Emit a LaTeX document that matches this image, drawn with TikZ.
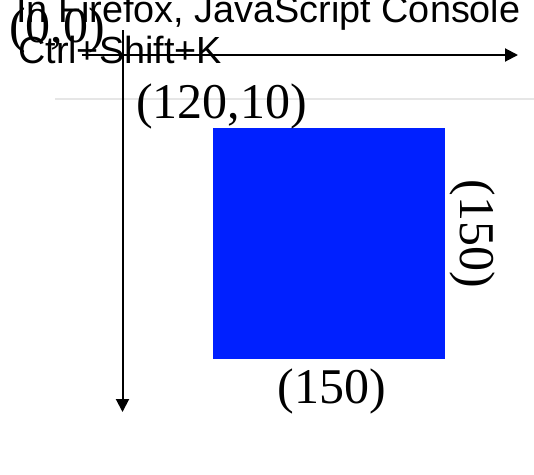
\documentclass[tikz,border=0pt]{standalone}
\usepackage{fontspec}
\setmainfont{Liberation Serif}
\newfontfamily\sansf{Liberation Sans}
\usetikzlibrary{arrows.meta}
\definecolor{rectblue}{RGB}{0,32,255}
\definecolor{guidegray}{RGB}{230,230,230}
\tikzset{
  axis/.style={line width=2pt,-{Triangle[length=13pt,width=13pt]}},
  big/.style={inner sep=0pt,font=\fontsize{50}{50}\selectfont},
  note/.style={inner sep=0pt,font=\sansf\fontsize{37.8}{37.8}\selectfont,anchor=base west},
}
\begin{document}
\begin{tikzpicture}[x=1pt,y=-1pt]
\useasboundingbox (0,0) rectangle (534,474);
% guide line
\coordinate (gl) at (55,99);
\coordinate (gr) at (534,99);
\draw[guidegray,line width=2pt] (gl) -- (gr);
% blue square
\node[fill=rectblue,draw=none,inner sep=0pt,minimum width=232pt,minimum height=231pt,anchor=north west] (box) at (213,128) {};
% axes
\coordinate (xs) at (82,55);
\coordinate (xe) at (518,55);
\coordinate (ys) at (122.5,30);
\coordinate (ye) at (122.5,412);
\draw[axis] (xs) -- (xe);
\draw[axis] (ys) -- (ye);
% texts
\node[note] (t1) at (16,22) {In Firefox, JavaScript Console};
\node[note] (t2) at (18,63) {Ctrl+Shift+K};
\node[big,anchor=base] (origin) at (57,42) {(0,0)};
\node[big,anchor=base west] (pos) at (136,118) {(120,10)};
\node[big,anchor=base] (wlab) at (331.5,403) {(150)};
\node[big,anchor=base,rotate=-90] (hlab) at (460,234) {(150)};
\end{tikzpicture}
\end{document}
